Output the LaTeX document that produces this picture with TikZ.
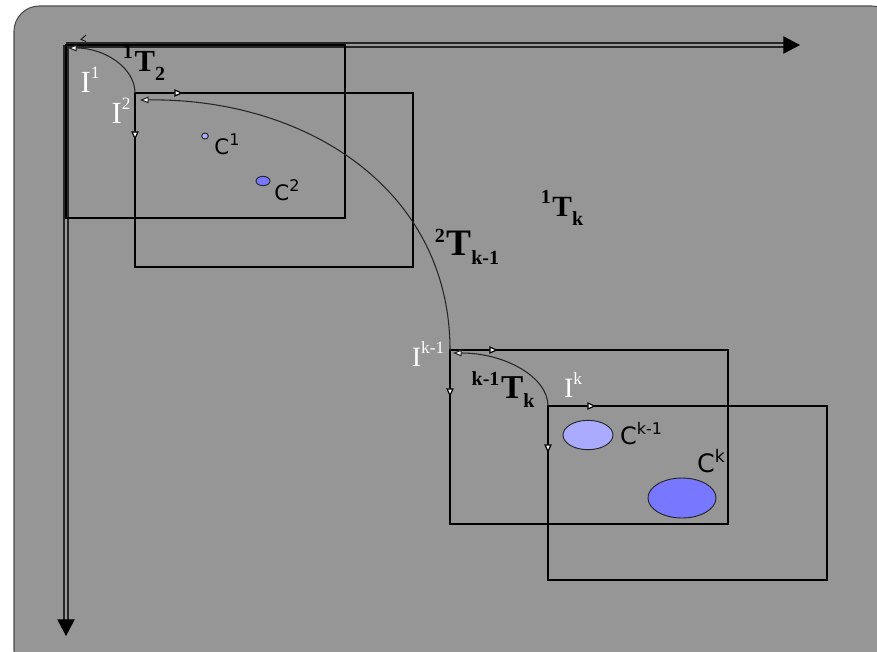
\documentclass[tikz,border=0pt]{standalone}
\usepackage{fontspec}
\setmainfont{Liberation Serif}
\newfontfamily\sanslab{DejaVu Sans}
\usetikzlibrary{arrows.meta, calc, positioning, shapes.geometric}

\definecolor{panel}{RGB}{150,150,150}
\definecolor{panelrim}{RGB}{75,75,75}
\definecolor{setlight}{RGB}{170,170,255}
\definecolor{setdark}{RGB}{119,119,255}

\begin{document}
\begin{tikzpicture}[x=0.75pt, y=-0.75pt,
    refframe/.style={draw=black, line width=1.9pt},
    axisline/.style={draw=black!85, line width=1.1pt, double=black!40, double distance=1.7pt},
    axistip/.style={-{Triangle[length=12.5pt, width=13pt]}, line width=0.9pt},
    edgetip/.style={-{Triangle[length=6.5pt, width=5.5pt, fill=white]}, line width=0.9pt},
    transarc/.style={draw=black!85, line width=0.8pt, -{Triangle[length=6.5pt, width=5pt, fill=white]}},
    ilabel/.style={text=white, inner sep=0pt},
    tlabel/.style={inner sep=0pt, font=\bfseries},
    clabel/.style={inner sep=0pt, font=\sanslab},
    cset/.style={ellipse, draw=black!85, line width=0.7pt, inner sep=0pt}
]
    % ==========================================
    % MACRO PER LE ETICHETTE
    % #1 = corpo della T, #2 = apice, #3 = pedice
    % ==========================================
    \newcommand{\tlab}[3]{{\fontsize{#1}{#1}\selectfont
        \raisebox{9.5pt}{\fontsize{15}{15}\selectfont #2}\kern1.2pt T\raisebox{-7pt}{\fontsize{15}{15}\selectfont #3}}}
    % #1 = corpo della I, #2 = corpo dell'apice, #3 = apice
    \newcommand{\ilab}[3]{{\fontsize{#1}{#1}\selectfont
        I\raisebox{0.45em}{\fontsize{#2}{#2}\selectfont #3}}}
    % #1 = corpo della C, #2 = corpo dell'apice, #3 = apice
    \newcommand{\clab}[3]{{\fontsize{#1}{#1}\selectfont
        C\raisebox{0.42em}{\fontsize{#2}{#2}\selectfont #3}}}

    \useasboundingbox (0,0) rectangle (877,651);

    % sfondo
    \begin{scope}
        \clip (0,0) rectangle (877,651);
        \draw [draw=panelrim, fill=panel, line width=0.8pt, rounded corners=19pt]
            (14,6) rectangle (897,676);
    \end{scope}

    % ==========================================
    % ASSI
    % ==========================================
    \coordinate (O) at (66,45);
    \coordinate (xend) at (800,45);
    \coordinate (yend) at (66,636);

    \draw [axisline] (O) -- ($(xend)+(-14,0)$);
    \draw [axisline] (O) -- ($(yend)+(0,-14)$);
    \draw [axistip] ($(xend)+(-16,0)$) -- (xend);
    \draw [axistip] ($(yend)+(0,-16)$) -- (yend);
    \draw [line width=0.6pt] (86,35) -- (81,39.5) -- (86,41.5);

    % ==========================================
    % RIFERIMENTI (origine I)
    % ==========================================
    \coordinate (I1) at (66,45);
    \coordinate (I2) at (135,93);
    \coordinate (Ik1) at (450,350);
    \coordinate (Ik) at (548,406);

    \draw [refframe] (I1) rectangle ++(279,173);
    \draw [refframe] (I2) rectangle ++(278,174);
    \draw [refframe] (Ik1) rectangle ++(278,174);
    \draw [refframe] (Ik) rectangle ++(279,174);

    % versi degli assi locali
    \foreach \o in {I2, Ik1, Ik} {
        \draw [edgetip] (\o) -- ++(48,0);
        \draw [edgetip] (\o) -- ++(0,47);
    }

    % ==========================================
    % TRASFORMAZIONI
    % ==========================================
    \draw [transarc] (I2) .. controls ($(I2)+(0,-25)$) and ($(I1)+(39,3)$) .. ($(I1)+(2,3)$);
    \draw [transarc] (Ik1) .. controls ($(Ik1)+(0,-160)$) and ($(I2)+(172,5)$) .. ($(I2)+(5,7)$);
    \draw [transarc] (Ik) .. controls ($(Ik)+(0,-29)$) and ($(Ik1)+(55,3)$) .. ($(Ik1)+(3,3)$);

    % ==========================================
    % INSIEMI C
    % ==========================================
    \node [cset, fill=setlight, minimum width=5pt, minimum height=4.5pt] (c1) at (205,136) {};
    \node [cset, fill=setdark, minimum width=10.5pt, minimum height=7pt] (c2) at (263,181) {};
    \node [cset, fill=setlight, minimum width=37.5pt, minimum height=22pt] (ck1) at (588,435) {};
    \node [cset, fill=setdark, minimum width=51pt, minimum height=30pt] (ck) at (682,498) {};

    \node [clabel] (lc1) at (227,144) {\clab{16}{12}{1}};
    \node [clabel] (lc2) at (287,190) {\clab{16}{12}{2}};
    \node [clabel] (lck1) at (641,434) {\clab{18}{12}{k-1}};
    \node [clabel] (lck) at (711,461) {\clab{19}{13}{k}};

    % ==========================================
    % ETICHETTE
    % ==========================================
    \node [ilabel] (li1) at (90,80) {\ilab{23}{13}{1}};
    \node [ilabel] (li2) at (121,111) {\ilab{23}{13}{2}};
    \node [ilabel] (lik1) at (428,354) {\ilab{21}{13}{k-1}};
    \node [ilabel] (lik) at (573,385) {\ilab{21}{13}{k}};

    \node [tlabel] (t12) at (144,63) {\tlab{23}{1}{2}};
    \node [tlabel] (t2k) at (467,247) {\tlab{28}{2}{k-1}};
    \node [tlabel] (t1k) at (562,208) {\tlab{22}{1}{k}};
    \node [tlabel] (tkk) at (503,390) {\tlab{25}{k-1}{k}};

\end{tikzpicture}
\end{document}
